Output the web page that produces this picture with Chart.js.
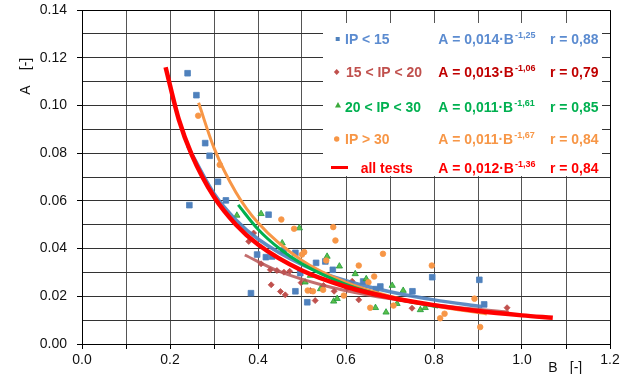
<!DOCTYPE html>
<html><head><meta charset="utf-8">
<script src="https://cdn.jsdelivr.net/npm/chart.js@4/dist/chart.umd.min.js"></script>
<style>html,body{margin:0;padding:0;background:#fff}#wrap{width:631px;height:374px;position:relative}</style>
</head><body><div id="wrap"><canvas id="c" width="631" height="374"></canvas></div>
<script>
// ---------- data ----------
const ip15B = [0.240,0.260,0.280,0.290,0.309,0.327,0.244,0.424,0.398,0.418,0.432,0.458,0.485,0.532,0.496,0.384,0.485,0.512,0.553,0.570,0.639,0.678,0.751,0.796,0.903,0.914,0.668];
const ip15A = [0.1135,0.1043,0.0842,0.0789,0.0680,0.0602,0.0582,0.0542,0.0375,0.0364,0.0367,0.0392,0.0382,0.0340,0.0297,0.0213,0.0221,0.0175,0.0346,0.0311,0.0262,0.0241,0.0221,0.0280,0.0269,0.0166,0.0230];

const ip15to20B = [0.379,0.390,0.407,0.428,0.443,0.459,0.472,0.430,0.451,0.462,0.498,0.530,0.519,0.573,0.614,0.629,0.750,0.966,0.549,0.603];
const ip15to20A = [0.0430,0.0465,0.0336,0.0311,0.0308,0.0301,0.0305,0.0248,0.0220,0.0206,0.0257,0.0182,0.0224,0.0221,0.0263,0.0185,0.0150,0.0152,0.0245,0.0234];

const ip20to30B = [0.352,0.407,0.494,0.455,0.557,0.507,0.542,0.519,0.585,0.621,0.646,0.705,0.730,0.572,0.580,0.667,0.691,0.716,0.769,0.780];
const ip20to30A = [0.0539,0.0546,0.0486,0.0423,0.0367,0.0259,0.0231,0.0287,0.0326,0.0294,0.0273,0.0245,0.0224,0.0179,0.0190,0.0152,0.0133,0.0169,0.0143,0.0152];

const ip30B = [0.264,0.313,0.453,0.482,0.505,0.500,0.555,0.513,0.525,0.571,0.576,0.684,0.629,0.664,0.651,0.548,0.595,0.655,0.708,0.795,0.892,0.814,0.824,0.905];
const ip30A = [0.0957,0.0751,0.0522,0.0483,0.0385,0.0375,0.0350,0.0224,0.0221,0.0490,0.0434,0.0378,0.0329,0.0283,0.0259,0.0227,0.0203,0.0152,0.0161,0.0329,0.0190,0.0108,0.0127,0.0071];

// fitted curves
const fitAllB = [0.19,0.22,0.25,0.30,0.35,0.40,0.50,0.60,0.70,0.80,0.90,1.00,1.07];
const fitAllA = [0.1160,0.0941,0.0791,0.0617,0.0500,0.0417,0.0308,0.0240,0.0195,0.0163,0.0138,0.0120,0.0110];
const fit15B = [0.24,0.30,0.35,0.40,0.50,0.60,0.70,0.80,0.91];
const fit15A = [0.0830,0.0631,0.0520,0.0440,0.0333,0.0265,0.0219,0.0185,0.0157];
const fit15to20B = [0.37,0.45,0.55,0.65,0.75,0.85,0.97];
const fit15to20A = [0.0373,0.0303,0.0245,0.0205,0.0176,0.0154,0.0134];
const fit20to30B = [0.355,0.40,0.45,0.50,0.60,0.70,0.81];
const fit20to30A = [0.0583,0.0481,0.0398,0.0336,0.0250,0.0195,0.0155];
const fit30B = [0.265,0.30,0.35,0.40,0.50,0.60,0.70,0.80,0.92];
const fit30A = [0.1011,0.0822,0.0635,0.0508,0.0350,0.0258,0.0200,0.0160,0.0126];

// legend texts
const legendLabels = ['IP < 15','15 < IP < 20','20 < IP < 30','IP > 30','all tests'];
const legendEq = ['A = 0,014·B','A = 0,013·B','A = 0,011·B','A = 0,011·B','A = 0,012·B'];
const legendExp = ['-1,25','-1,06','-1,61','-1,67','-1,36'];
const legendR = ['r = 0,88','r = 0,79','r = 0,85','r = 0,84','r = 0,84'];

const xTitle = ['B','[-]'];
const yTitle = ['A','[-]'];

// ---------- rendering ----------
const FONT = '"Liberation Sans", Arial, Helvetica, sans-serif';
const C_BLUE = '#4F81BD', C_BROWN = '#C0504D', C_GREEN = '#2EAA4A', C_ORANGE = '#F79646', C_RED = '#FF0000';
function pts(bs, as){ return bs.map((b,i)=>({x:b,y:as[i]})); }

function sq(ctx, text, x, y, size, color, sx){
  ctx.save(); ctx.translate(x,y); ctx.scale(sx,1);
  ctx.font = 'bold '+size+'px '+FONT; ctx.fillStyle = color; ctx.textBaseline='alphabetic'; ctx.textAlign='left';
  ctx.fillText(text,0,0);
  const w = ctx.measureText(text).width*sx; ctx.restore(); return w;
}

const overlay = {
  id:'overlay',
  afterDraw(chart){
    const ctx = chart.ctx, a = chart.chartArea;
    ctx.save();
    ctx.strokeStyle='#000'; ctx.lineWidth=1;
    ctx.beginPath();
    ctx.moveTo(Math.round(a.left)+0.5, Math.round(a.top)+0.5);
    ctx.lineTo(Math.round(a.right)+0.5, Math.round(a.top)+0.5);
    ctx.lineTo(Math.round(a.right)+0.5, Math.round(a.bottom)+0.5);
    ctx.stroke();
    // legend box
    ctx.fillStyle='#fff'; ctx.fillRect(323,23,279,153);
    const base = [44.3,77.3,111.7,144,173.3];
    const labCol = [C_BLUE, C_BROWN, '#00B050', C_ORANGE, C_RED];
    const eqCol = ['#5B8BD0', '#C00000', '#00B050', C_ORANGE, C_RED];
    // markers
    ctx.fillStyle = C_BLUE; ctx.fillRect(335.7,37,4,4);
    ctx.fillStyle = C_BROWN; ctx.beginPath(); ctx.moveTo(336.7,69); ctx.lineTo(339.5,72); ctx.lineTo(336.7,75); ctx.lineTo(333.9,72); ctx.closePath(); ctx.fill();
    ctx.fillStyle = '#3BAA3B'; ctx.beginPath(); ctx.moveTo(338,102); ctx.lineTo(341,107.5); ctx.lineTo(335,107.5); ctx.closePath(); ctx.fill();
    ctx.fillStyle = C_ORANGE; ctx.beginPath(); ctx.arc(336.7,139,2.7,0,Math.PI*2); ctx.fill();
    ctx.strokeStyle = C_RED; ctx.lineWidth=3; ctx.beginPath(); ctx.moveTo(331,167.5); ctx.lineTo(348,167.5); ctx.stroke();
    const labX = [345,346,345,345,360.7];
    for (let i=0;i<5;i++){
      sq(ctx, legendLabels[i], labX[i], base[i], 15.5, i==0?'#5B8BD0':labCol[i], 0.9);
      const w = sq(ctx, legendEq[i], 438.3, base[i], 15.5, eqCol[i], 0.9);
      sq(ctx, legendExp[i], 438.3+w+1, base[i]-6, 9, eqCol[i], 1);
      sq(ctx, legendR[i], 550, base[i], 15.5, eqCol[i], 0.9);
    }
    // axis titles
    ctx.fillStyle='#111'; ctx.font='14px '+FONT; ctx.textAlign='center'; ctx.textBaseline='middle';
    ctx.fillText(xTitle[0], 553, 368); ctx.fillText(xTitle[1], 576, 368);
    ctx.save(); ctx.translate(26,76); ctx.rotate(-Math.PI/2);
    ctx.fillText(yTitle[0], -14, 0); ctx.fillText(yTitle[1], 12, 0);
    ctx.restore();
    ctx.restore();
  }
};

const lineDs = (label, bs, as, color, w) => ({label, data: pts(bs,as), showLine:true, borderColor:color, borderWidth:w, pointRadius:0, pointHoverRadius:0, cubicInterpolationMode:'monotone', fill:false});
const ptDs = (label, bs, as, style, r, color, border) => ({label, data: pts(bs,as), showLine:false, pointStyle:style, pointRadius:r, backgroundColor:color, borderColor:border, borderWidth:0.8});

new Chart(document.getElementById('c'), {
  type:'scatter',
  data:{ datasets:[
    lineDs('all tests', fitAllB, fitAllA, C_RED, 4.5),
    lineDs('fit 20<IP<30', fit20to30B, fit20to30A, '#00B050', 3),
    lineDs('fit IP>30', fit30B, fit30A, C_ORANGE, 3),
    lineDs('fit 15<IP<20', fit15to20B, fit15to20A, 'rgba(185,85,85,0.85)', 3),
    lineDs('fit IP<15', fit15B, fit15A, 'rgba(79,129,189,0.9)', 3.5),
    ptDs('IP > 30', ip30B, ip30A, 'circle', 2.8, C_ORANGE, C_ORANGE),
    ptDs('20 < IP < 30', ip20to30B, ip20to30A, 'triangle', 3.6, '#5CBF4A', '#1E9A3A'),
    ptDs('15 < IP < 20', ip15to20B, ip15to20A, 'rectRot', 3, C_BROWN, C_BROWN),
    ptDs('IP < 15', ip15B, ip15A, 'rect', 4, C_BLUE, C_BLUE)
  ]},
  options:{
    responsive:false, animation:false, events:[],
    layout:{padding:{top:10,right:21,bottom:0,left:0}},
    plugins:{legend:{display:false}, tooltip:{enabled:false}, title:{display:false}},
    scales:{
      x:{ type:'linear', min:0, max:1.2,
        afterFit(s){ s.height = 30; s.paddingLeft = 0; s.paddingRight = 0; },
        ticks:{ stepSize:0.1, autoSkip:false, maxRotation:0, padding:3, color:'#111', font:{family:FONT,size:14},
          callback(v){ const k=Math.round(v*10); return k%2===0 ? (k/10).toFixed(1) : ''; } },
        grid:{ color:'#555', lineWidth:1, tickLength:5, tickColor:'#000' },
        border:{ display:true, color:'#000', width:1 }
      },
      y:{ type:'linear', min:0, max:0.14,
        afterFit(s){ s.width = 82; s.paddingTop = 0; s.paddingBottom = 0; },
        ticks:{ stepSize:0.01, autoSkip:false, padding:10, color:'#111', font:{family:FONT,size:14},
          callback(v){ const k=Math.round(v*100); return k%2===0 ? (k/100).toFixed(2) : ''; } },
        grid:{ color:'#333', lineWidth:1, tickLength:5,
          tickColor(ctx){ return (ctx.tick && Math.round(ctx.tick.value*100)%2===0) ? '#000' : 'rgba(0,0,0,0)'; } },
        border:{ display:true, color:'#000', width:1 }
      }
    }
  },
  plugins:[overlay]
});
</script></body></html>
